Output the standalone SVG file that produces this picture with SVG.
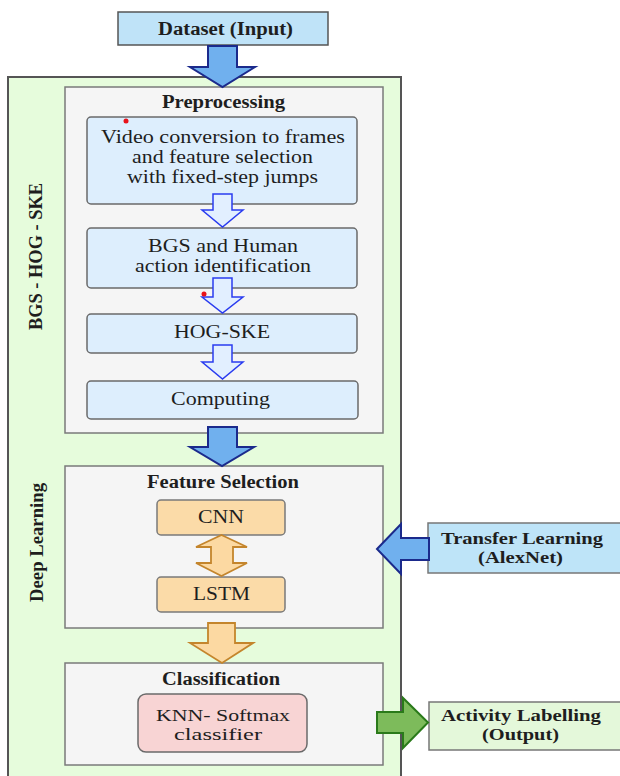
<svg xmlns="http://www.w3.org/2000/svg" width="620" height="776" viewBox="0 0 620 776">
<style>
text{font-family:"Liberation Serif","Times New Roman",serif;font-size:18px;fill:#1e1e1e;text-anchor:middle}
.b{font-weight:bold}
.s{font-size:17px}
.sec{fill:#f5f5f5;stroke:#7a7a7a;stroke-width:1.5}
.lb{fill:#ddeefd;stroke:#6a6a6a;stroke-width:1.5}
.or{fill:#fbdba8;stroke:#7a7a7a;stroke-width:1.5}
.bigb{fill:#70b0ee;stroke:#1b2a8c;stroke-width:2;stroke-linejoin:miter}
.hol{fill:#e2efff;stroke:#2a3cf0;stroke-width:1.5}
.ora{fill:#fcd9a2;stroke:#c4852c;stroke-width:1.8}
.grn{fill:#7dbb5b;stroke:#2a7a1a;stroke-width:2}
</style>
<rect width="620" height="776" fill="#ffffff"/>
<g id="outer">
<rect x="8" y="77" width="393" height="710" fill="#e6fcdc" stroke="#555" stroke-width="2"/>
<text class="b" transform="translate(42,256.5) rotate(-90)" textLength="147" lengthAdjust="spacingAndGlyphs">BGS - HOG - SKE</text>
<text class="b" transform="translate(43,542.5) rotate(-90)" textLength="119" lengthAdjust="spacingAndGlyphs">Deep Learning</text>
</g>
<g id="dataset">
<rect x="118" y="12" width="210" height="33" fill="#bfe3f8" stroke="#555" stroke-width="1.5"/>
<text class="b" x="225.5" y="35" textLength="135" lengthAdjust="spacingAndGlyphs">Dataset (Input)</text>
</g>
<g id="preprocessing">
<rect class="sec" x="65" y="87" width="318" height="346"/>
<text class="b" x="223.5" y="108" textLength="123" lengthAdjust="spacingAndGlyphs">Preprocessing</text>
</g>
<g id="video">
<rect class="lb" x="87" y="117" width="270" height="87" rx="4"/>
<text x="223" y="143" textLength="244" lengthAdjust="spacingAndGlyphs">Video conversion to frames</text>
<text x="222.5" y="163" textLength="181" lengthAdjust="spacingAndGlyphs">and feature selection</text>
<text x="222.5" y="183" textLength="191" lengthAdjust="spacingAndGlyphs">with fixed-step jumps</text>
</g>
<g id="bgs">
<rect class="lb" x="87" y="228" width="270" height="60" rx="4"/>
<text x="223" y="252" textLength="150" lengthAdjust="spacingAndGlyphs">BGS and Human</text>
<text x="223" y="272" textLength="176" lengthAdjust="spacingAndGlyphs">action identification</text>
</g>
<g id="hogske">
<rect class="lb" x="87" y="314" width="270" height="39" rx="4"/>
<text x="222" y="338" textLength="96" lengthAdjust="spacingAndGlyphs">HOG-SKE</text>
</g>
<g id="computing">
<rect class="lb" x="87" y="381" width="271" height="38" rx="4"/>
<text x="220.5" y="405" textLength="99" lengthAdjust="spacingAndGlyphs">Computing</text>
</g>
<g id="featureselection">
<rect class="sec" x="65" y="466" width="318" height="162"/>
<text class="b" x="223" y="488" textLength="152" lengthAdjust="spacingAndGlyphs">Feature Selection</text>
</g>
<g id="cnn">
<rect class="or" x="157" y="500" width="128" height="35" rx="4"/>
<text x="221" y="523" textLength="46" lengthAdjust="spacingAndGlyphs">CNN</text>
</g>
<g id="lstm">
<rect class="or" x="157" y="577" width="128" height="35" rx="4"/>
<text x="221.5" y="600" textLength="57" lengthAdjust="spacingAndGlyphs">LSTM</text>
</g>
<g id="classification">
<rect class="sec" x="65" y="663" width="318" height="102"/>
<text class="b" x="221" y="685" textLength="118" lengthAdjust="spacingAndGlyphs">Classification</text>
</g>
<g id="knn">
<rect x="138" y="694" width="169" height="58" rx="8" fill="#f8d4d4" stroke="#6a6a6a" stroke-width="1.5"/>
<text class="s" x="223" y="721" textLength="134" lengthAdjust="spacingAndGlyphs">KNN- Softmax</text>
<text class="s" x="218" y="740" textLength="88" lengthAdjust="spacingAndGlyphs">classifier</text>
</g>
<g id="transfer">
<rect x="428" y="523" width="196" height="50" fill="#bee4f8" stroke="#777" stroke-width="1.5"/>
<text class="b s" x="522" y="544" textLength="162" lengthAdjust="spacingAndGlyphs">Transfer Learning</text>
<text class="b s" x="520.5" y="563" textLength="85" lengthAdjust="spacingAndGlyphs">(AlexNet)</text>
</g>
<g id="activity">
<rect x="429" y="702" width="195" height="48" fill="#e4f8da" stroke="#777" stroke-width="1.5"/>
<text class="b s" x="521" y="721" textLength="160" lengthAdjust="spacingAndGlyphs">Activity Labelling</text>
<text class="b s" x="520.5" y="740" textLength="77" lengthAdjust="spacingAndGlyphs">(Output)</text>
</g>
<g id="connectors">
<polygon class="bigb" points="208,46 237,46 237,67 255,67 222.5,87 190,67 208,67"/>
<polygon class="hol" points="213,194 232,194 232,210 243,210 222.5,227 202,210 213,210"/>
<polygon class="hol" points="213,278 232,278 232,297 243,297 222.5,313 202,297 213,297"/>
<polygon class="hol" points="213,345 232,345 232,362 243,362 222.5,379 202,362 213,362"/>
<polygon class="bigb" points="208,427 237,427 237,447 254,447 222,466 190,447 208,447"/>
<polygon class="ora" points="221.5,535 247,547 233,547 233,563 247,563 221.5,576 196,563 211,563 211,547 196,547"/>
<polygon class="ora" points="208,623 235,623 235,643 253,643 222,663 190,643 208,643"/>
<polygon class="bigb" points="377,549 401,524 401,538 429,538 429,560 401,560 401,574"/>
<polygon class="grn" points="377,712 403,712 403,698 428,722.5 403,748 403,733 377,733"/>
</g>
<g id="marks">
<circle cx="126" cy="121" r="2.5" fill="#e8121a"/>
<circle cx="204" cy="294" r="2.5" fill="#e8121a"/>
</g>
</svg>
